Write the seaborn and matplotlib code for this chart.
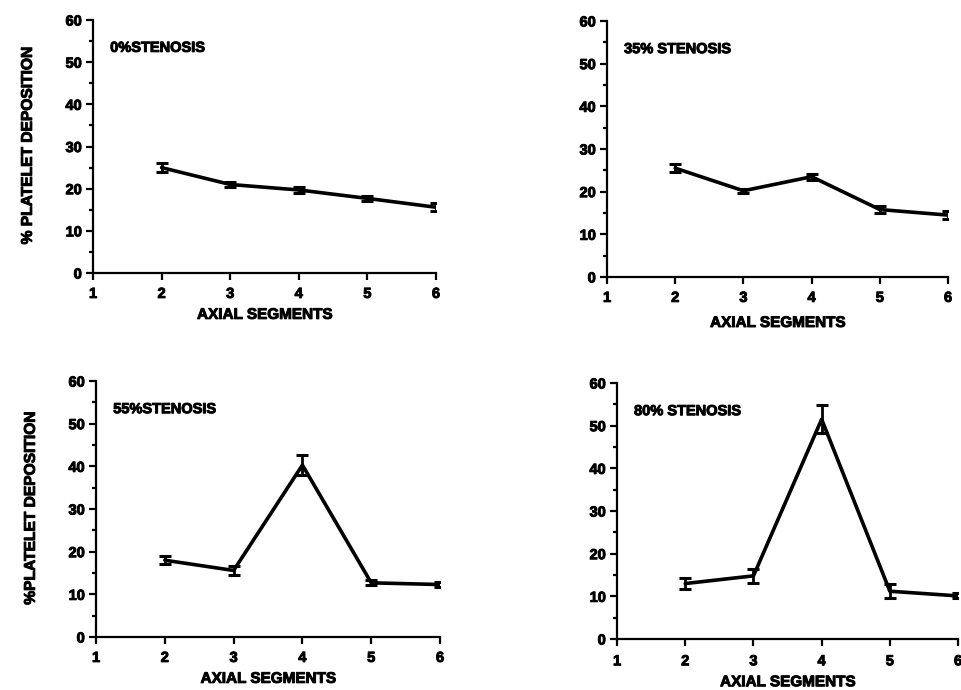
import matplotlib
matplotlib.use("Agg")
import matplotlib.pyplot as plt
import matplotlib.patheffects as pe
import seaborn as sns
import pandas as pd
from matplotlib.ticker import MultipleLocator

sns.set_style("ticks")
plt.rcParams["font.family"] = ["Liberation Sans", "DejaVu Sans"]
plt.rcParams["font.weight"] = "bold"
plt.rcParams["text.color"] = "black"
plt.rcParams["axes.labelcolor"] = "black"
plt.rcParams["xtick.color"] = "black"
plt.rcParams["ytick.color"] = "black"

segments = [2, 3, 4, 5, 6]
titles = ["0%STENOSIS", "35% STENOSIS", "55%STENOSIS", "80% STENOSIS"]

dep_0 = [25.0, 21.0, 19.7, 17.7, 15.6]
err_0 = [1.0, 0.5, 0.8, 0.6, 1.0]
dep_35 = [25.5, 20.2, 23.5, 15.8, 14.5]
err_35 = [1.0, 0.5, 0.7, 0.9, 1.0]
dep_55 = [18.0, 15.6, 40.3, 12.7, 12.3]
err_55 = [1.0, 1.0, 2.4, 0.6, 0.6]
dep_80 = [13.0, 14.8, 51.5, 11.2, 10.1]
err_80 = [1.3, 1.6, 3.3, 1.6, 0.6]

series = [(dep_0, err_0), (dep_35, err_35), (dep_55, err_55), (dep_80, err_80)]

# heavier strokes on all lettering
bold_fx = [pe.withStroke(linewidth=0.7, foreground="black")]

fig = plt.figure(figsize=(9.62, 6.9), dpi=100)
boxes = [
    [0.0967, 0.6043, 0.3565, 0.3667],
    [0.6310, 0.5986, 0.3545, 0.3710],
    [0.0998, 0.0768, 0.3576, 0.3710],
    [0.6414, 0.0739, 0.3545, 0.3710],
]
ylabels = ["% PLATELET DEPOSITION", None, "%PLATELET DEPOSITION", None]
xpads = [5, 8, 5, 5]
xtick_pads = [5, 5, 5, 6]

for box, (vals, errs), title, ylab, xpad, tpad in zip(
        boxes, series, titles, ylabels, xpads, xtick_pads):
    ax = fig.add_axes(box)
    df = pd.DataFrame({"segment": segments, "deposition": vals})
    sns.lineplot(data=df, x="segment", y="deposition", ax=ax,
                 color="black", linewidth=2.6)
    ax.errorbar(segments, vals, yerr=errs, fmt="none", ecolor="black",
                elinewidth=2.0, capsize=4.0, capthick=2.2)
    ax.set_xlim(1, 6)
    ax.set_ylim(0, 60)
    ax.set_xticks([1, 2, 3, 4, 5, 6])
    ax.set_yticks(range(0, 61, 10))
    ax.yaxis.set_minor_locator(MultipleLocator(5))
    sns.despine(ax=ax)
    for side in ("left", "bottom"):
        ax.spines[side].set_linewidth(1.6)
        ax.spines[side].set_color("black")
    ax.tick_params(axis="both", which="major", length=5, width=1.6,
                   labelsize=10.5, colors="black")
    ax.tick_params(axis="x", which="major", pad=tpad)
    ax.tick_params(axis="y", which="major", pad=3)
    ax.tick_params(axis="y", which="minor", length=3, width=1.6)
    for lbl in ax.get_xticklabels() + ax.get_yticklabels():
        lbl.set_fontweight("bold")
        lbl.set_path_effects(bold_fx)
    xl = ax.set_xlabel("AXIAL SEGMENTS", fontsize=11, fontweight="bold",
                       labelpad=xpad)
    xl.set_path_effects(bold_fx)
    if ylab:
        yl = ax.set_ylabel(ylab, fontsize=11.2, fontweight="bold", labelpad=22)
        yl.set_path_effects(bold_fx)
    else:
        ax.set_ylabel("")
    ax.text(0.05, 0.89, title, transform=ax.transAxes, fontsize=10.5,
            fontweight="bold", ha="left", va="center", path_effects=bold_fx)

fig.savefig("out.png", dpi=100, facecolor="white")
